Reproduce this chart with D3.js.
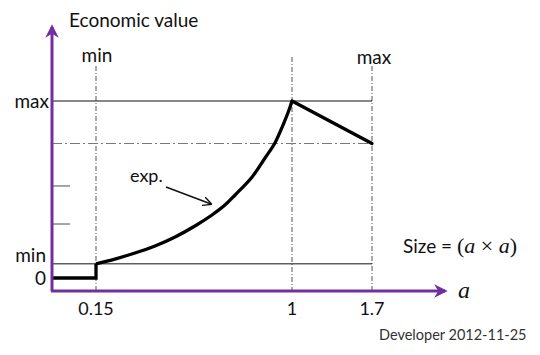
<!DOCTYPE html>
<html>
<head>
<meta charset="utf-8">
<script src="https://cdn.jsdelivr.net/npm/d3@7"></script>
<style>
  body { margin: 0; background: #fff; }
  text { font-family: Lato, "Open Sans", sans-serif; fill: #111; }
</style>
</head>
<body>
<svg id="chart" width="540" height="355"></svg>
<script>
//Break points on the a axis and their labels
var xTicks = [0.15, 1, 1.7];
var xTickLabels = ["0.15", "1", "1.7"];

//Levels on the economic value axis
var yLevels = [0, 0.08, 1];
var yLevelLabels = ["0", "min", "max"];
var dashLevel = 0.76;          //value reached at a = 1.7
var minorTicks = [0.305, 0.52];

//Step part of the curve (below a = 0.15)
var stepA = [0, 0.15, 0.15];
var stepV = [0, 0, 0.08];

//Exponential part
var expA = [0.15, 0.232, 0.319, 0.406, 0.493, 0.579, 0.653, 0.709, 0.753, 0.827, 0.883, 0.926, 0.961, 0.987, 1];
var expV = [0.08, 0.107, 0.141, 0.181, 0.232, 0.294, 0.356, 0.412, 0.469, 0.571, 0.678, 0.763, 0.864, 0.949, 1];

//Linear decline after a = 1
var declA = [1, 1.7];
var declV = [1, 0.76];

var purple = "#7030a0";
var serif = "'Liberation Serif', serif";
var svg = d3.select("#chart");

//Axis is not to scale in the original, so piecewise linear
var x = d3.scaleLinear()
  .domain([0, 0.15, 1, 1.7, 2.34])
  .range([52, 96, 292, 372, 445]);

var y = d3.scaleLinear()
  .domain([0, 1])
  .range([278, 101]);

var axisBottomV = -0.073, axisTopV = 1.418;

var defs = svg.append("defs");
defs.append("marker")
  .attr("id", "purpleHead")
  .attr("viewBox", "0 0 10 10")
  .attr("refX", 8).attr("refY", 5)
  .attr("markerWidth", 4.5).attr("markerHeight", 4.5)
  .attr("orient", "auto")
  .append("path")
  .attr("d", "M0,0 L10,5 L0,10 L3,5 Z")
  .attr("fill", purple);
defs.append("marker")
  .attr("id", "blackHead")
  .attr("viewBox", "0 0 10 10")
  .attr("refX", 9).attr("refY", 5)
  .attr("markerWidth", 9).attr("markerHeight", 9)
  .attr("markerUnits", "userSpaceOnUse")
  .attr("orient", "auto")
  .append("path")
  .attr("d", "M0,0 L10,5 L0,10")
  .attr("fill", "none")
  .attr("stroke", "#111")
  .attr("stroke-width", 1.5);

//Gray dash-dot guides
svg.append("g").selectAll("line")
  .data(xTicks)
  .enter().append("line")
  .attr("x1", function(d) { return x(d); })
  .attr("x2", function(d) { return x(d); })
  .attr("y1", function(d) { return d == 1 ? 57 : 66; })
  .attr("y2", y(axisBottomV))
  .attr("stroke", "#555")
  .attr("stroke-width", 1)
  .attr("stroke-dasharray", "5,2,1,2");

svg.append("line")
  .attr("x1", x(0)).attr("x2", x(1.7))
  .attr("y1", y(dashLevel)).attr("y2", y(dashLevel))
  .attr("stroke", "#777")
  .attr("stroke-width", 1.2)
  .attr("stroke-dasharray", "10,3,2,3");

//Solid min and max lines
svg.append("g").selectAll("line")
  .data(yLevels.slice(1))
  .enter().append("line")
  .attr("x1", x(0)).attr("x2", x(1.7))
  .attr("y1", function(d) { return y(d); })
  .attr("y2", function(d) { return y(d); })
  .attr("stroke", "#111")
  .attr("stroke-width", 1);

//Minor gray ticks on the y axis
svg.append("g").selectAll("line")
  .data(minorTicks)
  .enter().append("line")
  .attr("x1", x(0)).attr("x2", x(0) + 18)
  .attr("y1", function(d) { return y(d); })
  .attr("y2", function(d) { return y(d); })
  .attr("stroke", "#888")
  .attr("stroke-width", 1.5);

//The value curve
var line = d3.line()
  .x(function(d) { return x(d[0]); })
  .y(function(d) { return y(d[1]); });

svg.append("path")
  .datum(d3.zip(stepA, stepV))
  .attr("d", line)
  .attr("fill", "none")
  .attr("stroke", "#000")
  .attr("stroke-width", 3.3);

svg.append("path")
  .datum(d3.zip(declA, declV))
  .attr("d", line)
  .attr("fill", "none")
  .attr("stroke", "#000")
  .attr("stroke-width", 3.3)
  .attr("stroke-linecap", "round");

svg.append("path")
  .datum(d3.zip(expA, expV))
  .attr("d", line.curve(d3.curveCatmullRom.alpha(0.5)))
  .attr("fill", "none")
  .attr("stroke", "#000")
  .attr("stroke-width", 3.3);

//Purple axes
svg.append("line")
  .attr("x1", x(0)).attr("x2", x(0))
  .attr("y1", y(axisBottomV)).attr("y2", y(axisTopV))
  .attr("stroke", purple)
  .attr("stroke-width", 3)
  .attr("marker-end", "url(#purpleHead)");

svg.append("line")
  .attr("x1", x(0) - 1).attr("x2", x(2.34))
  .attr("y1", y(axisBottomV)).attr("y2", y(axisBottomV))
  .attr("stroke", purple)
  .attr("stroke-width", 3)
  .attr("marker-end", "url(#purpleHead)");

//Labels
svg.append("g").selectAll("text")
  .data(xTicks)
  .enter().append("text")
  .attr("x", function(d) { return x(d); })
  .attr("y", 315)
  .attr("text-anchor", "middle")
  .attr("font-size", 18)
  .text(function(d, i) { return xTickLabels[i]; });

svg.append("g").selectAll("text")
  .data(yLevels)
  .enter().append("text")
  .attr("x", function(d, i) { return i == 2 ? 49 : 46; })
  .attr("y", function(d, i) { return y(d) + (i == 1 ? -2 : 7); })
  .attr("text-anchor", "end")
  .attr("font-size", 19)
  .text(function(d, i) { return yLevelLabels[i]; });

svg.append("text")
  .attr("x", x(0.15) + 1).attr("y", 62)
  .attr("text-anchor", "middle")
  .attr("font-size", 19)
  .text("min");

svg.append("text")
  .attr("x", x(1.7) + 2).attr("y", 64)
  .attr("text-anchor", "middle")
  .attr("font-size", 19)
  .text("max");

svg.append("text")
  .attr("x", 69).attr("y", 27)
  .attr("font-size", 19)
  .text("Economic value");

svg.append("text")
  .attr("x", 130).attr("y", 182)
  .attr("font-size", 18)
  .text("exp.");

svg.append("line")
  .attr("x1", 166).attr("y1", 187)
  .attr("x2", 211).attr("y2", 204)
  .attr("stroke", "#111")
  .attr("stroke-width", 1.5)
  .attr("marker-end", "url(#blackHead)");

var size = svg.append("text")
  .attr("x", 403).attr("y", 253)
  .attr("font-size", 19);
size.append("tspan").text("Size = ");
size.append("tspan").style("font-family", serif).style("font-size", "22px").text("(");
size.append("tspan").style("font-family", serif).style("font-size", "22px").style("font-style", "italic").text("a");
size.append("tspan").style("font-family", serif).style("font-size", "22px").text(" × ");
size.append("tspan").style("font-family", serif).style("font-size", "22px").style("font-style", "italic").text("a");
size.append("tspan").style("font-family", serif).style("font-size", "22px").text(")");

svg.append("text")
  .attr("x", 458).attr("y", 298)
  .attr("font-size", 24)
  .style("font-family", serif)
  .style("font-style", "italic")
  .text("a");

svg.append("text")
  .attr("x", 379).attr("y", 340)
  .attr("font-size", 14.5)
  .style("fill", "#333")
  .text("Developer  2012-11-25");
</script>
</body>
</html>
